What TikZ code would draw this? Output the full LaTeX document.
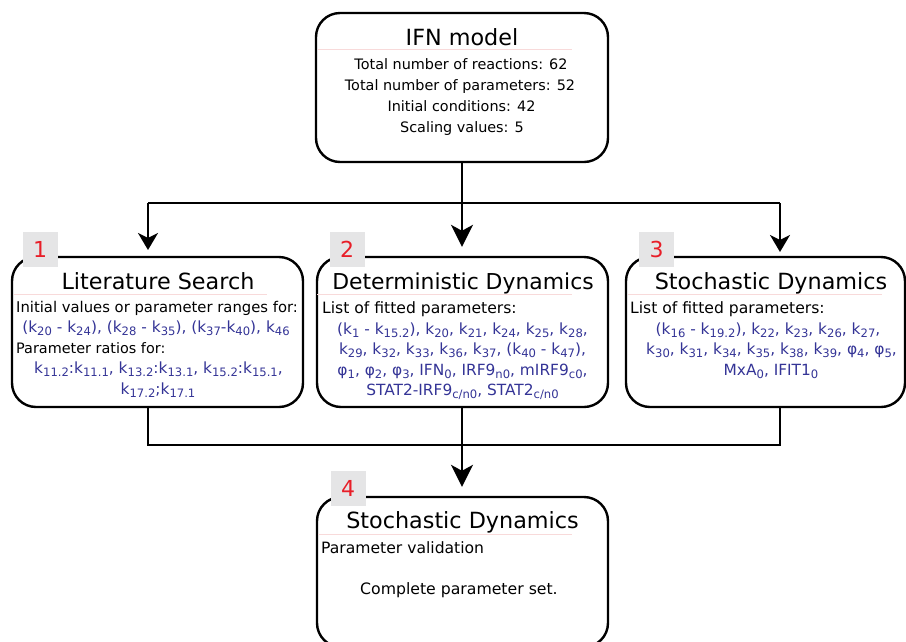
\documentclass[tikz,border=0pt]{standalone}
\usepackage{fontspec}
\setmainfont{DejaVu Sans}
\usetikzlibrary{arrows.meta}
\definecolor{paramblue}{RGB}{52,52,150}
\definecolor{tagred}{RGB}{232,30,40}
\definecolor{taggrey}{RGB}{229,229,230}
\definecolor{rulepink}{RGB}{248,218,218}
% lowered small index for parameter names
\newcommand\sbs[1]{\raisebox{-0.36ex}{\fontsize{11.6}{12}\selectfont #1}}
\newcommand\fsz[1]{\fontsize{#1}{#1}\selectfont}

\begin{document}
\begin{tikzpicture}[x=1pt,y=-1pt,
  frame/.style 2 args={draw, line width=2.4pt, rounded corners=24pt,
    minimum width=#1, minimum height=#2, inner sep=0pt},
  title/.style={anchor=base, inner sep=0pt, font=\fsz{22.3}},
  bodyl/.style={anchor=base west, inner sep=0pt, font=\fsz{#1}},
  bodyc/.style={anchor=base, inner sep=0pt, font=\fsz{#1}},
  par/.style={anchor=base, inner sep=0pt, text=paramblue, font=\fsz{15.4}},
  tag/.style={fill=taggrey, minimum size=35pt, inner sep=0pt, text=tagred,
    font=\fsz{22}},
  link/.style={line width=2pt},
  arr/.style={line width=2pt, -{Stealth[length=17pt,width=20pt,inset=5pt]}},
  arrbig/.style={line width=2pt, -{Stealth[length=22pt,width=22pt,inset=6pt]}},
  titlerule/.style={rulepink, line width=0.8pt}]

\clip (0,0) rectangle (906,641);

% ---------- boxes ----------
\node[frame={292pt}{149pt}] (ifn) at (462,87.5) {};
\node[frame={291pt}{150pt}] (lit) at (157.5,332) {};
\node[frame={291pt}{150pt}] (det) at (462.5,332) {};
\node[frame={279pt}{150pt}] (sto) at (765.5,332) {};
\node[frame={291pt}{150pt}] (val) at (462.5,572) {};

% ---------- top box ----------
\draw[titlerule] (318,49) -- (572,49);
\node[title] (ifnT) at (462,45) {IFN model};
\node[bodyc=14.4] (ifn1) at (461,69) {Total number of reactions: 62};
\node[bodyc=14.4] (ifn2) at (460,90) {Total number of parameters: 52};
\node[bodyc=14.4] (ifn3) at (461.5,111) {Initial conditions: 42};
\node[bodyc=14.4] (ifn4) at (462,132) {Scaling values: 5};

% ---------- literature search ----------
\draw[titlerule] (14,294) -- (267,294);
\node[title] (litT) at (158,289) {Literature Search};
\node[bodyl=14.8] (lit1) at (16,312) {Initial values or parameter ranges for:};
\node[par] (lit2) at (156,332.5) {(k\sbs{20} - k\sbs{24}), (k\sbs{28} - k\sbs{35}), (k\sbs{37}-k\sbs{40}), k\sbs{46}};
\node[bodyl=14.4] (lit3) at (16,353) {Parameter ratios for:};
\node[par] (lit4) at (158.5,373.5) {k\sbs{11.2}:k\sbs{11.1}, k\sbs{13.2}:k\sbs{13.1}, k\sbs{15.2}:k\sbs{15.1},};
\node[par] (lit5) at (158,394) {k\sbs{17.2};k\sbs{17.1}};

% ---------- deterministic dynamics ----------
\draw[titlerule] (317,294) -- (572,294);
\node[title, font=\fsz{21.9}] (detT) at (463,289) {Deterministic Dynamics};
\node[bodyl=15.6] (det1) at (322,313) {List of fitted parameters:};
\node[par] (det2) at (462.5,334) {(k\sbs{1} - k\sbs{15.2}), k\sbs{20}, k\sbs{21}, k\sbs{24}, k\sbs{25}, k\sbs{28},};
\node[par] (det3) at (462.5,354.5) {k\sbs{29}, k\sbs{32}, k\sbs{33}, k\sbs{36}, k\sbs{37}, (k\sbs{40} - k\sbs{47}),};
\node[par] (det4) at (462.5,375) {φ\sbs{1}, φ\sbs{2}, φ\sbs{3}, IFN\sbs{0}, IRF9\sbs{n0}, mIRF9\sbs{c0},};
\node[par] (det5) at (462.5,395.5) {STAT2-IRF9\sbs{c/n0}, STAT2\sbs{c/n0}};

% ---------- stochastic dynamics ----------
\draw[titlerule] (628,294) -- (882,294);
\node[title] (stoT) at (771,289) {Stochastic Dynamics};
\node[bodyl=15.6] (sto1) at (630,313) {List of fitted parameters:};
\node[par] (sto2) at (768,334) {(k\sbs{16} - k\sbs{19.2}), k\sbs{22}, k\sbs{23}, k\sbs{26}, k\sbs{27},};
\node[par] (sto3) at (771.5,354.5) {k\sbs{30}, k\sbs{31}, k\sbs{34}, k\sbs{35}, k\sbs{38}, k\sbs{39}, φ\sbs{4}, φ\sbs{5},};
\node[par] (sto4) at (771,375) {MxA\sbs{0}, IFIT1\sbs{0}};

% ---------- validation ----------
\draw[titlerule] (318,534) -- (572,534);
\node[title] (valT) at (462.5,528) {Stochastic Dynamics};
\node[bodyl=15.6] (val1) at (321,553) {Parameter validation};
\node[bodyc=15.7] (val2) at (459,594) {Complete parameter set.};

% ---------- step tags ----------
\node[tag] (tag1) at (40,249.5) {1};
\node[tag] (tag2) at (347,249.5) {2};
\node[tag] (tag3) at (656.5,249.5) {3};
\node[tag] (tag4) at (348,488.5) {4};

% ---------- connectors ----------
\coordinate (split) at (462,203);
\coordinate (litIn) at (148,257);
\coordinate (stoIn) at (780,257);
\coordinate (litOut) at (148,407);
\coordinate (stoOut) at (780,407);
\coordinate (merge) at (462,445);

\draw[arrbig, shorten >=9pt] (ifn.south) -- (ifn.south |- det.north);
\draw[link] (litIn |- split) -- (stoIn |- split);
\draw[arr, shorten >=7pt] (litIn |- split) -- (litIn);
\draw[arr, shorten >=5pt] (stoIn |- split) -- (stoIn);

\draw[link] (litOut) -- (litOut |- merge) -- (stoOut |- merge) -- (stoOut);
\draw[arrbig, shorten >=9pt] (det.south -| ifn.south) -- (ifn.south |- val.north);
\end{tikzpicture}
\end{document}
